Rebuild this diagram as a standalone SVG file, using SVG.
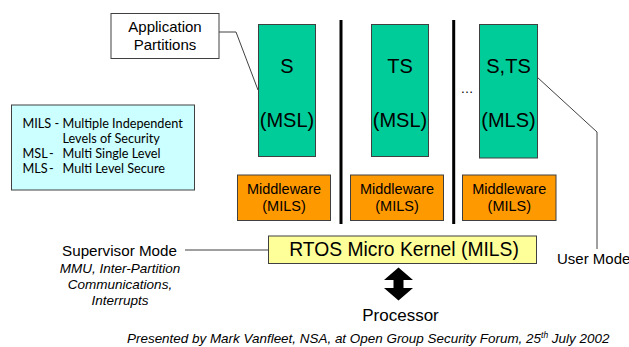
<svg xmlns="http://www.w3.org/2000/svg" width="629" height="347" viewBox="0 0 629 347">
<style>
.a{font-family:"Liberation Sans",Arial,sans-serif;fill:#000}
.part{fill:#00CC99;stroke:#404040;stroke-width:1}
.mw{fill:#FF9900;stroke:#404040;stroke-width:1}
.big{font-size:20px;text-anchor:middle}
.mid{font-size:14.5px;text-anchor:middle}
.lg{font-family:Lato,"Open Sans",sans-serif;font-size:12.7px;fill:#000}
.it{font-style:italic;font-size:13.5px;text-anchor:middle}
.ln{fill:none;stroke:#404040;stroke-width:1}
</style>
<rect width="629" height="347" fill="#fff"/>
<g id="connectors">
<polyline class="ln" points="219,32 236,32 258,90"/>
<polyline class="ln" points="537,77 597,132 597,249"/>
<line class="ln" x1="185" y1="250" x2="268" y2="250"/>
<rect x="339.5" y="20" width="3" height="204" fill="#000"/>
<rect x="452.2" y="20" width="3" height="204" fill="#000"/>
<polygon points="398.5,267.5 413,280 403.5,280 403.5,288 413,288 398.5,300.5 384,288 393.5,288 393.5,280 384,280" fill="#000"/>
</g>
<g id="app-partitions">
<rect x="111" y="13.5" width="108" height="45" fill="#fff" stroke="#404040"/>
<text class="a" x="165" y="32" font-size="15" text-anchor="middle">Application</text>
<text class="a" x="165" y="50" font-size="15" text-anchor="middle">Partitions</text>
</g>
<g id="legend">
<rect x="11.5" y="105" width="183" height="85" fill="#CCFFFF" stroke="#404040"/>
<text class="lg" x="22.5" y="128">MILS -</text>
<text class="lg" x="62.5" y="128">Multiple Independent</text>
<text class="lg" x="62.5" y="143">Levels of Security</text>
<text class="lg" x="22.5" y="158">MSL</text>
<text class="lg" x="49" y="158">-</text>
<text class="lg" x="62.5" y="158">Multi Single Level</text>
<text class="lg" x="22.5" y="173">MLS</text>
<text class="lg" x="49" y="173">-</text>
<text class="lg" x="62.5" y="173">Multi Level Secure</text>
</g>
<g id="part-s">
<rect class="part" x="258.5" y="24.5" width="57" height="132"/>
<text class="a big" x="287" y="73">S</text>
<text class="a big" x="287" y="127">(MSL)</text>
</g>
<g id="part-ts">
<rect class="part" x="371.5" y="24.5" width="57" height="132"/>
<text class="a big" x="400" y="73">TS</text>
<text class="a big" x="400" y="127">(MSL)</text>
</g>
<text class="a" x="467" y="93" font-size="13" text-anchor="middle" fill="#404040">…</text>
<g id="part-sts">
<rect class="part" x="479.5" y="24.5" width="58" height="133.5"/>
<text class="a big" x="508.5" y="73">S,TS</text>
<text class="a big" x="508.5" y="127">(MLS)</text>
</g>
<g id="mw1">
<rect class="mw" x="237.5" y="175" width="93" height="45.5"/>
<text class="a mid" x="284" y="193.5">Middleware</text>
<text class="a mid" x="284" y="211">(MILS)</text>
</g>
<g id="mw2">
<rect class="mw" x="350.5" y="175" width="93" height="45.5"/>
<text class="a mid" x="397" y="193.5">Middleware</text>
<text class="a mid" x="397" y="211">(MILS)</text>
</g>
<g id="mw3">
<rect class="mw" x="462.5" y="175" width="93.5" height="45.5"/>
<text class="a mid" x="509.3" y="193.5">Middleware</text>
<text class="a mid" x="509.3" y="211">(MILS)</text>
</g>
<g id="rtos">
<rect x="268.5" y="236" width="268" height="27.5" fill="#FFFF99" stroke="#404040"/>
<text class="a" x="404" y="256" font-size="19.3" text-anchor="middle">RTOS Micro Kernel (MILS)</text>
</g>
<g id="supervisor">
<text class="a" x="119.5" y="256" font-size="15.2" text-anchor="middle">Supervisor Mode</text>
<text class="a it" x="120" y="272.5">MMU, Inter-Partition</text>
<text class="a it" x="120" y="289">Communications,</text>
<text class="a it" x="120" y="305">Interrupts</text>
</g>
<g id="user-mode">
<text class="a" x="557" y="264" font-size="15">User Mode</text>
</g>
<g id="processor">
<text class="a" x="400.5" y="321" font-size="17" text-anchor="middle">Processor</text>
</g>
<text class="a" x="127" y="343" font-size="13.45" font-style="italic">Presented by Mark Vanfleet, NSA, at Open Group Security Forum, 25<tspan font-size="8.5" dy="-5">th</tspan><tspan dy="5"> July 2002</tspan></text>
</svg>
